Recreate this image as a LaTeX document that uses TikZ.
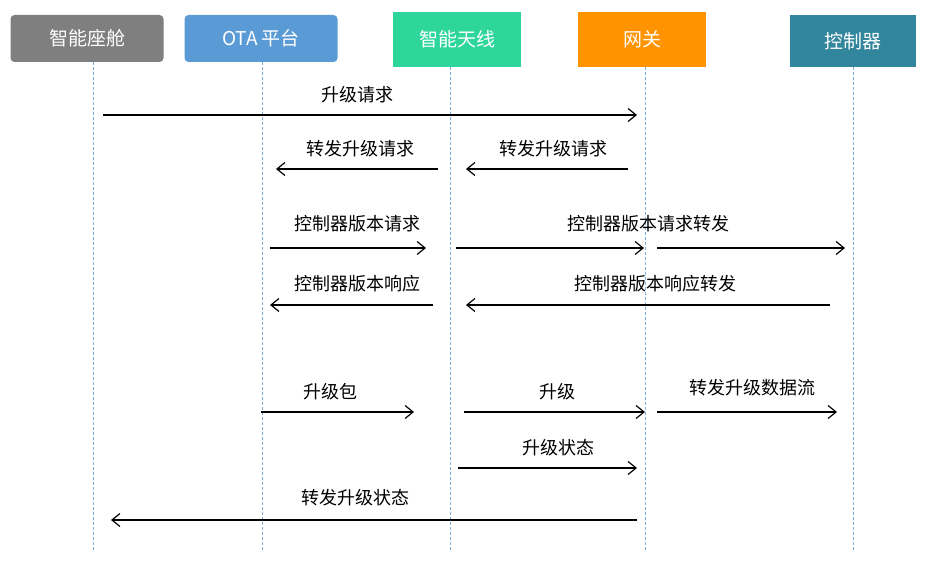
\documentclass[tikz,border=0pt]{standalone}
\usepackage{fontspec}
\newfontfamily\cjk{Noto Sans CJK SC}
\usetikzlibrary{arrows.meta}
\definecolor{cgray}{HTML}{7F7F7F}
\definecolor{cblue}{HTML}{5B9BD5}
\definecolor{cgreen}{HTML}{2ED69B}
\definecolor{corange}{HTML}{FF9300}
\definecolor{cteal}{HTML}{31859C}
\definecolor{cline}{HTML}{7FAEDC}
\begin{document}
\begin{tikzpicture}[x=1pt,y=-1pt,
  hdr/.style={draw=none,text=white,inner sep=0pt,font=\cjk\fontsize{19}{22}\selectfont},
  lbl/.style={inner sep=0pt,font=\cjk\fontsize{18}{21}\selectfont},
  life/.style={cline,dashed,dash pattern=on 3pt off 2pt,line width=0.8pt},
  msg/.style={line width=1.2pt,-{Straight Barb[length=8pt,width=13pt,line width=1.2pt]}}]
\useasboundingbox (0,0) rectangle (934,569);
\node[hdr,fill=cgray,rounded corners=4pt,minimum width=153pt,minimum height=47pt] (h1) at (87,38.5) {智能座舱};
\node[hdr,fill=cblue,rounded corners=4pt,minimum width=153pt,minimum height=47pt] (h2) at (261,38.5) {OTA 平台};
\node[hdr,fill=cgreen,minimum width=128pt,minimum height=55pt] (h3) at (457,39.5) {智能天线};
\node[hdr,fill=corange,minimum width=128pt,minimum height=55pt] (h4) at (642,39.5) {网关};
\node[hdr,fill=cteal,minimum width=126pt,minimum height=52pt] (h5) at (853,41) {控制器};
\foreach \n/\x/\y in {1/93/62,2/262/62,3/450/67,4/645/67,5/853/67}{
  \coordinate (t\n) at (\x,\y); \coordinate (b\n) at (\x,550);
  \draw[life] (t\n) -- (b\n);}
% messages
\coordinate (a1) at (103,115); \coordinate (a2) at (637,115);
\draw[msg] (a1) -- (a2); \node[lbl] (l1) at (357,95) {升级请求};
\coordinate (a3) at (438,169); \coordinate (a4) at (276,169);
\draw[msg] (a3) -- (a4); \node[lbl] (l2) at (360,149) {转发升级请求};
\coordinate (a5) at (628,169); \coordinate (a6) at (466,169);
\draw[msg] (a5) -- (a6); \node[lbl] (l3) at (553,149) {转发升级请求};
\coordinate (a7) at (270,248); \coordinate (a8) at (426,248);
\draw[msg] (a7) -- (a8); \node[lbl] (l4) at (357,224) {控制器版本请求};
\coordinate (a9) at (456,248); \coordinate (a10) at (644,248);
\draw[msg] (a9) -- (a10);
\coordinate (a11) at (657,248); \coordinate (a12) at (845,248);
\draw[msg] (a11) -- (a12); \node[lbl] (l5) at (648,224) {控制器版本请求转发};
\coordinate (a13) at (433,305); \coordinate (a14) at (270,305);
\draw[msg] (a13) -- (a14); \node[lbl] (l6) at (357,284) {控制器版本响应};
\coordinate (a15) at (830,305); \coordinate (a16) at (466,305);
\draw[msg] (a15) -- (a16); \node[lbl] (l7) at (655,284) {控制器版本响应转发};
\coordinate (a17) at (261,412); \coordinate (a18) at (414,412);
\draw[msg] (a17) -- (a18); \node[lbl] (l8) at (330,392) {升级包};
\coordinate (a19) at (464,412); \coordinate (a20) at (645,412);
\draw[msg] (a19) -- (a20); \node[lbl] (l9) at (557,392) {升级};
\coordinate (a21) at (657,412); \coordinate (a22) at (837,412);
\draw[msg] (a21) -- (a22); \node[lbl] (l10) at (752,388) {转发升级数据流};
\coordinate (a23) at (458,468); \coordinate (a24) at (637,468);
\draw[msg] (a23) -- (a24); \node[lbl] (l11) at (558,448) {升级状态};
\coordinate (a25) at (637,520); \coordinate (a26) at (111,520);
\draw[msg] (a25) -- (a26); \node[lbl] (l12) at (355,498) {转发升级状态};
\end{tikzpicture}
\end{document}
